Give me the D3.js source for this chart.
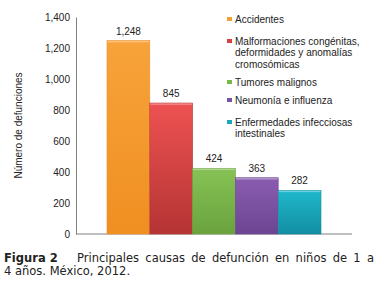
<!DOCTYPE html>
<html>
<head>
<meta charset="utf-8">
<script src="https://cdn.jsdelivr.net/npm/d3@7"></script>
<style>
  body { margin: 0; background: #fff; }
  svg { display: block; }
</style>
</head>
<body>
<div id="chart"></div>
<script>
const causes = [
  "Accidentes",
  "Malformaciones congénitas, deformidades y anomalías cromosómicas",
  "Tumores malignos",
  "Neumonía e influenza",
  "Enfermedades infecciosas intestinales"
];
const deaths = [1248, 845, 424, 363, 282];
const legendLines = [
  ["Accidentes"],
  ["Malformaciones congénitas,", "deformidades y anomalías", "cromosómicas"],
  ["Tumores malignos"],
  ["Neumonía e influenza"],
  ["Enfermedades infecciosas", "intestinales"]
];
const yTicks = [0, 200, 400, 600, 800, 1000, 1200, 1400];
const colorsTop = ["#f7a33a", "#ee5252", "#86c255", "#8a5cb0", "#20b8cc"];
const colorsBottom = ["#f08f22", "#b53434", "#6aa33e", "#6c4592", "#128ea2"];
const legendColors = ["#f0a030", "#d84040", "#7ab848", "#7a52a4", "#1aa8bc"];

const W = 384, H = 288;
const svg = d3.select("#chart").append("svg").attr("width", W).attr("height", H);

const x0 = 76, x1 = 352, yBase = 234, yTop = 17;
const y = d3.scaleLinear().domain([0, 1400]).range([yBase, yTop]);
const x = d3.scaleBand().domain(causes).range([107, 321]).padding(0);

// gradients
const defs = svg.append("defs");
causes.forEach((c, i) => {
  const g = defs.append("linearGradient").attr("id", "g" + i)
    .attr("x1", 0).attr("y1", 0).attr("x2", 0).attr("y2", 1);
  g.append("stop").attr("offset", "0%").attr("stop-color", colorsTop[i]);
  g.append("stop").attr("offset", "100%").attr("stop-color", colorsBottom[i]);
});

// y axis
const yAxis = svg.append("g").attr("transform", `translate(${x0},0)`)
  .call(d3.axisLeft(y).tickValues(yTicks).tickSize(0).tickPadding(6).tickFormat(d3.format(",")));
yAxis.select(".domain").attr("stroke", "#808080");
yAxis.selectAll("text").attr("font-family", "Liberation Sans, Arial, sans-serif")
  .attr("font-size", 10).attr("fill", "#222");

// x axis baseline
svg.append("line").attr("x1", x0).attr("x2", x1).attr("y1", yBase).attr("y2", yBase)
  .attr("stroke", "#808080");

// bars
svg.selectAll(".bar").data(causes).enter().append("rect")
  .attr("x", d => x(d))
  .attr("y", (d, i) => y(deaths[i]))
  .attr("width", x.bandwidth())
  .attr("height", (d, i) => yBase - y(deaths[i]))
  .attr("fill", (d, i) => `url(#g${i})`)
  .attr("stroke", (d, i) => colorsBottom[i])
  .attr("stroke-width", 0.6);

// top highlight
svg.selectAll(".hl").data(causes).enter().append("rect")
  .attr("x", d => x(d) + 0.5)
  .attr("y", (d, i) => y(deaths[i]) + 0.3)
  .attr("width", x.bandwidth() - 1)
  .attr("height", 1.5)
  .attr("fill", "#fff").attr("opacity", 0.35);

// value labels
svg.selectAll(".val").data(causes).enter().append("text")
  .attr("x", d => x(d) + x.bandwidth() / 2)
  .attr("y", (d, i) => y(deaths[i]) - 6)
  .attr("text-anchor", "middle")
  .attr("font-family", "Liberation Sans, Arial, sans-serif")
  .attr("font-size", 10).attr("fill", "#222")
  .text((d, i) => d3.format(",")(deaths[i]));

// y label
svg.append("text")
  .attr("transform", `translate(22,${(yBase + yTop) / 2}) rotate(-90)`)
  .attr("text-anchor", "middle")
  .attr("font-family", "Liberation Sans, Arial, sans-serif")
  .attr("font-size", 10).attr("fill", "#222")
  .text("Número de defunciones");

// legend
const legendY = [19, 41, 82, 100, 122];
legendLines.forEach((lines, i) => {
  svg.append("rect").attr("x", 227).attr("y", legendY[i] - 2).attr("width", 5).attr("height", 4)
    .attr("fill", legendColors[i]);
  lines.forEach((t, j) => {
    svg.append("text").attr("x", 235).attr("y", legendY[i] + j * 11.5 + 3.5)
      .attr("font-family", "Liberation Sans, Arial, sans-serif")
      .attr("font-size", 10).attr("fill", "#222")
      .text(t);
  });
});

// caption
const cap = svg.append("text").attr("font-family", "DejaVu Sans, sans-serif")
  .attr("font-size", 11.5).attr("fill", "#222");
cap.append("tspan").attr("x", 4).attr("y", 262).attr("font-weight", "bold").text("Figura 2");
cap.append("tspan").attr("x", 77).attr("y", 262).attr("word-spacing", 2.6)
  .text("Principales causas de defunción en niños de 1 a");
cap.append("tspan").attr("x", 4).attr("y", 275).text("4 años. México, 2012.");
</script>
</body>
</html>
